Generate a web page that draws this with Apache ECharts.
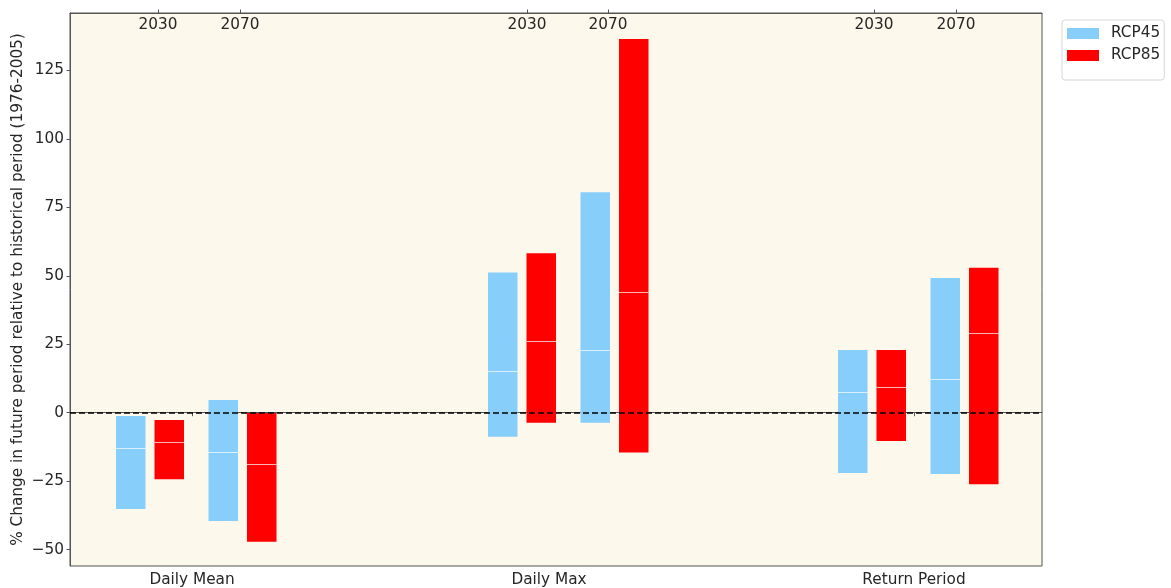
<!DOCTYPE html>
<html>
<head>
<meta charset="utf-8">
<script src="https://cdn.jsdelivr.net/npm/echarts@6/dist/echarts.min.js"></script>
<style>
  html, body { margin: 0; padding: 0; background: #ffffff; }
  #chart { width: 1171px; height: 588px; }
</style>
</head>
<body>
<div id="chart"></div>
<script>
// Indicators and projection periods
const groups = ['Daily Mean', 'Daily Max', 'Return Period'];
const periods = ['2030', '2070'];
const scenarios = ['RCP45', 'RCP85'];

// Range of % change per indicator/period, order:
// Daily Mean 2030, Daily Mean 2070, Daily Max 2030, Daily Max 2070, Return Period 2030, Return Period 2070
const rcp45Low    = [-35.2, -39.6, -8.8, -3.7, -22.0, -22.4];
const rcp45High   = [-1.2, 4.6, 51.2, 80.5, 22.9, 49.2];
const rcp45Median = [-12.8, -14.2, 15.2, 22.9, 7.6, 12.3];

const rcp85Low    = [-24.3, -47.1, -3.7, -14.5, -10.3, -26.1];
const rcp85High   = [-2.7, -0.1, 58.2, 136.5, 22.9, 52.9];
const rcp85Median = [-10.8, -18.9, 26.3, 44.2, 9.4, 29.1];

// Y tick values
const yTicks = [-50, -25, 0, 25, 50, 75, 100, 125];

// Horizontal layout (x axis runs 0..972 across the plot)
const X_MAX = 972;
const groupStart = [46, 418, 768];
const periodStep = 92.5;
const scenarioStep = 38.5;
const barWidth = 29.5;
const groupTickPos = [122, 479, 844];
const periodTickPos = [[88, 170], [457, 538], [804, 886]];

const colors = { RCP45: '#87CEFA', RCP85: '#FF0000' };
const FONT = 'DejaVu Sans';
const FS = 15.3;

function buildItems(low, high, median, sIdx) {
  const items = [];
  groups.forEach((g, gi) => {
    periods.forEach((p, pi) => {
      const k = gi * periods.length + pi;
      const x0 = groupStart[gi] + pi * periodStep + sIdx * scenarioStep;
      items.push([x0, low[k], high[k], median[k]]);
    });
  });
  return items;
}

function renderRange(params, api) {
  const x0 = api.value(0);
  const lo = api.value(1);
  const hi = api.value(2);
  const md = api.value(3);
  const pTop = api.coord([x0, hi]);
  const pBot = api.coord([x0 + barWidth, lo]);
  const pMed = api.coord([x0, md]);
  const color = api.visual('color');
  return {
    type: 'group',
    children: [
      {
        type: 'rect',
        shape: { x: pTop[0], y: pTop[1], width: pBot[0] - pTop[0], height: pBot[1] - pTop[1] },
        style: { fill: color }
      },
      {
        type: 'line',
        shape: { x1: pTop[0], y1: Math.round(pMed[1]) + 0.5, x2: pBot[0], y2: Math.round(pMed[1]) + 0.5 },
        style: { stroke: 'rgba(255,255,255,0.7)', lineWidth: 1 }
      }
    ]
  };
}

const periodTickFlat = [];
const periodLabelMap = {};
periodTickPos.forEach(arr => arr.forEach((v, i) => { periodTickFlat.push(v); periodLabelMap[v] = periods[i]; }));
const groupLabelMap = {};
groupTickPos.forEach((v, i) => { groupLabelMap[v] = groups[i]; });

const axisColor = '#555555';
const textColor = '#262626';

const chart = echarts.init(document.getElementById('chart'), null, { renderer: 'canvas' });
chart.setOption({
  animation: false,
  backgroundColor: '#ffffff',
  textStyle: { fontFamily: FONT },
  grid: {
    left: 70, right: 129, top: 13, bottom: 22,
    outerBoundsMode: 'none', containLabel: false,
    show: true, backgroundColor: '#FDF8EC', borderColor: axisColor, borderWidth: 1
  },
  legend: {
    orient: 'vertical',
    left: 1062, top: 20,
    data: scenarios,
    icon: 'rect',
    itemWidth: 32, itemHeight: 11, itemGap: 7,
    padding: [6, 4, 17, 5],
    backgroundColor: '#ffffff',
    borderColor: '#d6d6d6', borderWidth: 1, borderRadius: 3,
    textStyle: { fontFamily: FONT, fontSize: FS, color: textColor, padding: [0, 0, 0, 7] },
    selectedMode: false
  },
  xAxis: [
    {
      type: 'value', min: 0, max: X_MAX, position: 'bottom',
      splitLine: { show: false },
      axisLine: { show: true, lineStyle: { color: axisColor, width: 1 } },
      axisTick: { show: true, length: 3.5, lineStyle: { color: axisColor }, customValues: groupTickPos },
      axisLabel: {
        show: true, margin: 7, fontFamily: FONT, fontSize: FS, color: textColor,
        customValues: groupTickPos,
        formatter: v => groupLabelMap[v] || ''
      }
    },
    {
      type: 'value', min: 0, max: X_MAX, position: 'top',
      splitLine: { show: false },
      axisLine: { show: true, lineStyle: { color: axisColor, width: 1 } },
      axisTick: { show: true, length: 3.5, lineStyle: { color: axisColor }, customValues: periodTickFlat },
      axisLabel: {
        show: true, inside: true, margin: 5, fontFamily: FONT, fontSize: FS, color: textColor,
        customValues: periodTickFlat,
        formatter: v => periodLabelMap[v] || ''
      }
    }
  ],
  yAxis: {
    type: 'value', min: -56, max: 146,
    name: '% Change in future period relative to historical period (1976-2005)',
    nameLocation: 'middle', nameGap: 44, nameRotate: 90, nameMoveOverlap: false,
    nameTextStyle: { fontFamily: FONT, fontSize: FS, color: textColor },
    splitLine: { show: false },
    axisLine: { show: true, lineStyle: { color: axisColor, width: 1 } },
    axisTick: { show: true, length: 3.5, lineStyle: { color: axisColor }, customValues: yTicks },
    axisLabel: {
      show: true, margin: 6, fontFamily: FONT, fontSize: FS, color: textColor,
      customValues: yTicks,
      formatter: v => (v < 0 ? '\u2212' + Math.abs(v) : String(v))
    }
  },
  series: [
    {
      name: 'RCP45', type: 'custom', xAxisIndex: 0,
      itemStyle: { color: colors.RCP45 },
      renderItem: renderRange,
      encode: { x: 0, y: [1, 2] },
      data: buildItems(rcp45Low, rcp45High, rcp45Median, 0),
      z: 2
    },
    {
      name: 'RCP85', type: 'custom', xAxisIndex: 0,
      itemStyle: { color: colors.RCP85 },
      renderItem: renderRange,
      encode: { x: 0, y: [1, 2] },
      data: buildItems(rcp85Low, rcp85High, rcp85Median, 1),
      z: 2
    },
    {
      name: 'zero', type: 'line', data: [], z: 10,
      markLine: {
        silent: true, symbol: ['none', 'none'], label: { show: false },
        lineStyle: { color: '#000000', type: [6, 3], width: 1.5 },
        data: [{ yAxis: 0 }]
      }
    }
  ]
});
</script>
</body>
</html>
